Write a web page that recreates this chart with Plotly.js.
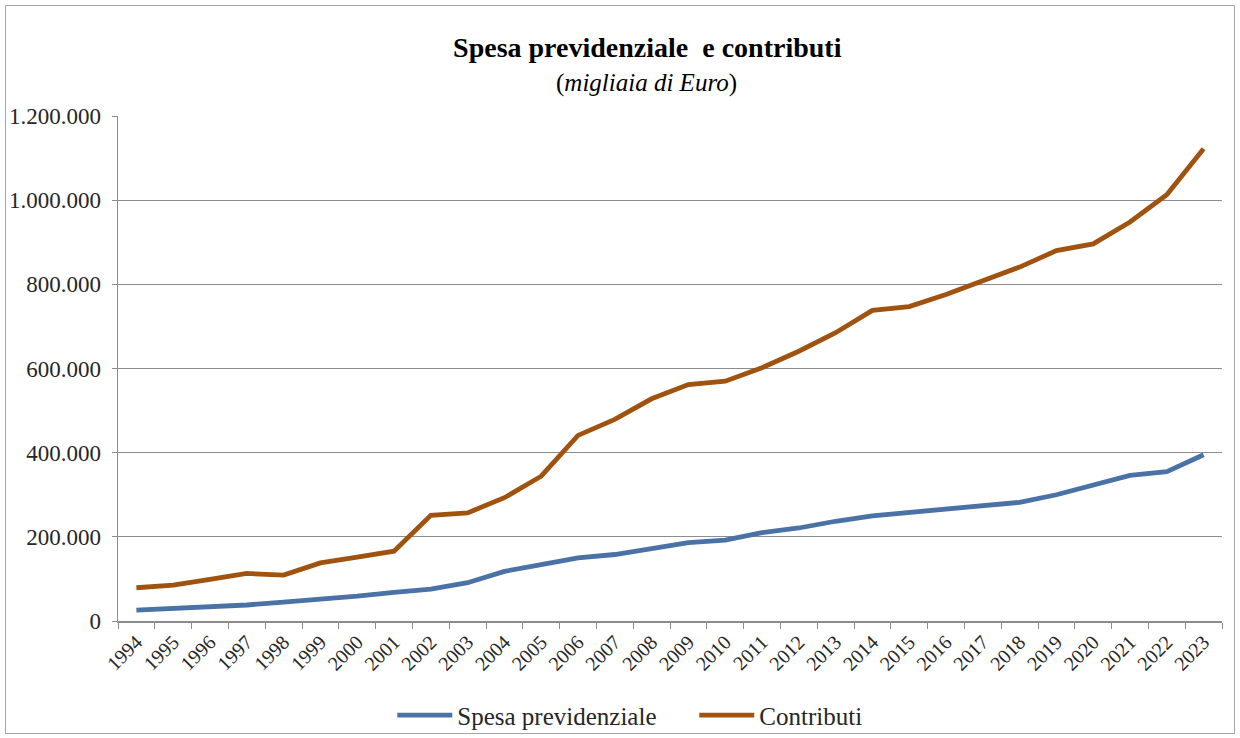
<!DOCTYPE html>
<html>
<head>
<meta charset="utf-8">
<script src="https://cdn.plot.ly/plotly-3.0.1.min.js"></script>
<style>
  html, body { margin: 0; padding: 0; background: #ffffff; }
  #chart { width: 1240px; height: 738px; }
  #frame { position: absolute; left: 5px; top: 5px; width: 1230px; height: 729px;
           border: 1px solid #a6a6a6; box-sizing: border-box; pointer-events: none; }
</style>
</head>
<body>
<div id="chart"></div>
<div id="frame"></div>
<script>
const years = ['1994','1995','1996','1997','1998','1999','2000','2001','2002','2003',
               '2004','2005','2006','2007','2008','2009','2010','2011','2012','2013',
               '2014','2015','2016','2017','2018','2019','2020','2021','2022','2023'];

// migliaia di Euro
const spesaPrevidenziale = [26000, 30000, 34000, 38000, 45000, 51000, 59000, 68000, 76000, 91000,
                            118000, 134000, 150000, 158000, 172000, 186000, 192000, 210000, 221000, 237000,
                            250000, 258000, 265000, 273000, 282000, 300000, 322000, 346000, 355000, 395000];

const contributi = [79000, 85000, 99000, 113000, 109000, 138000, 152000, 166000, 251000, 257000,
                    293000, 344000, 441000, 479000, 528000, 562000, 570000, 602000, 641000, 685000,
                    738000, 747000, 776000, 809000, 841000, 880000, 896000, 948000, 1013000, 1122000];

const seriesNames = ['Spesa previdenziale', 'Contributi'];
const titleText = 'Spesa previdenziale  e contributi';
const subtitleText = '(<i>migliaia di Euro</i>)';

const serif = 'Liberation Serif, DejaVu Serif, serif';

const traces = [
  { x: years, y: spesaPrevidenziale, name: seriesNames[0], type: 'scatter', mode: 'lines',
    line: { color: '#4a72a6', width: 4.8 } },
  { x: years, y: contributi, name: seriesNames[1], type: 'scatter', mode: 'lines',
    line: { color: '#a0520f', width: 4.8 } }
];

const layout = {
  width: 1240, height: 738,
  paper_bgcolor: '#ffffff', plot_bgcolor: '#ffffff',
  separators: ',.',
  margin: { l: 118, r: 18, t: 116, b: 116.5, autoexpand: false },
  font: { family: serif, color: '#262626' },
  title: { text: '<b>' + titleText + '</b>', font: { family: serif, size: 28, color: '#000000' },
           xref: 'container', x: 0.522, xanchor: 'center',
           yref: 'container', y: 0.936, yanchor: 'middle' },
  annotations: [
    { text: subtitleText, xref: 'paper', yref: 'paper', x: 0.479, y: 1.066,
      xanchor: 'center', yanchor: 'middle', showarrow: false,
      font: { family: serif, size: 25, color: '#000000' } }
  ],
  xaxis: {
    type: 'category', range: [-0.5, years.length - 0.5], automargin: false,
    tickson: 'boundaries', ticks: 'outside', ticklen: 6, tickcolor: '#8c8c8c',
    showline: true, linecolor: '#8c8c8c', linewidth: 1.5, showgrid: false, zeroline: false,
    tickangle: -45, tickfont: { family: serif, size: 20, color: '#262626' }
  },
  yaxis: {
    range: [0, 1200000], dtick: 200000, tickformat: ',d', automargin: false,
    showgrid: true, gridcolor: '#8c8c8c', gridwidth: 1.2,
    showline: true, linecolor: '#8c8c8c', linewidth: 1.5, zeroline: false,
    ticks: 'outside', ticklen: 5, tickcolor: '#8c8c8c', ticklabelstandoff: 6,
    tickfont: { family: serif, size: 23, color: '#262626' }
  },
  showlegend: true,
  legend: { orientation: 'h', x: 0.522, xanchor: 'center', y: -0.187, yanchor: 'middle',
            font: { family: serif, size: 25, color: '#262626' }, itemwidth: 55,
            entrywidth: 232,
            traceorder: 'normal', bgcolor: 'rgba(0,0,0,0)' }
};

Plotly.newPlot('chart', traces, layout, { displayModeBar: false, staticPlot: true });
</script>
</body>
</html>
